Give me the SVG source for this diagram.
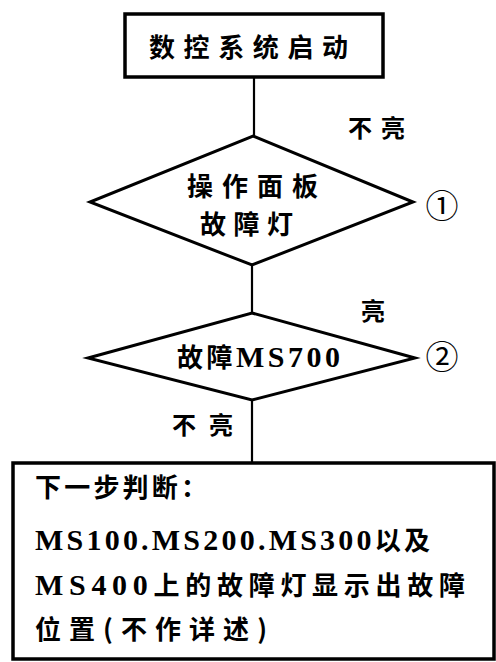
<svg xmlns="http://www.w3.org/2000/svg" width="496" height="662" viewBox="0 0 496 662">
<style>
.box{fill:#fff;stroke:#000;stroke-width:3.5}
.dia{fill:#fff;stroke:#000;stroke-width:3}
.ln{stroke:#000;stroke-width:2.2;fill:none}
text{font-family:"Noto Sans CJK SC","Liberation Serif",serif;font-weight:bold;fill:#000}
.t{font-size:26px}
.l{font-size:24px}
.s{font-family:"Liberation Serif","Noto Sans CJK SC",serif;font-weight:bold;font-size:30px}
.c{font-family:"Noto Sans CJK SC",sans-serif;font-weight:normal;font-size:33px}
</style>
<rect width="496" height="662" fill="#fff"/>
<g id="connectors">
<line class="ln" x1="254" y1="78" x2="254" y2="136"/>
<line class="ln" x1="252" y1="265" x2="252" y2="313"/>
<line class="ln" x1="252" y1="400" x2="252" y2="463"/>
</g>
<g id="start">
<rect class="box" x="125" y="14" width="258" height="63"/>
<text class="t" x="149" y="57" textLength="199" lengthAdjust="spacing">数控系统启动</text>
</g>
<g id="decision1">
<polygon class="dia" points="253,136 413,202 252,265 90,202"/>
<text class="t" x="187" y="196" textLength="131" lengthAdjust="spacing">操作面板</text>
<text class="t" x="200" y="234" textLength="93" lengthAdjust="spacing">故障灯</text>
</g>
<g id="decision2">
<polygon class="dia" points="252,313 415,358 252,400 88,358"/>
<text class="t" x="177" y="367" textLength="163" lengthAdjust="spacing">故障<tspan class="s">MS700</tspan></text>
</g>
<g id="result">
<rect class="box" x="13" y="463" width="481" height="196"/>
<text class="t" x="35" y="497" textLength="172" lengthAdjust="spacing">下一步判断：</text>
<text class="t" x="35" y="550" textLength="395" lengthAdjust="spacing"><tspan class="s">MS100.MS200.MS300</tspan>以及</text>
<text class="t" x="35" y="595" textLength="430" lengthAdjust="spacing"><tspan class="s">MS400</tspan>上的故障灯显示出故障</text>
<text class="t" x="35" y="639" textLength="232" lengthAdjust="spacing">位置(不作详述)</text>
</g>
<g id="labels">
<text class="l" x="348" y="137" textLength="57" lengthAdjust="spacing">不亮</text>
<text class="l" x="361" y="320">亮</text>
<text class="l" x="172" y="434" textLength="61" lengthAdjust="spacing">不亮</text>
<text class="c" x="442" y="218" text-anchor="middle">①</text>
<text class="c" x="442" y="369" text-anchor="middle">②</text>
</g>
</svg>
